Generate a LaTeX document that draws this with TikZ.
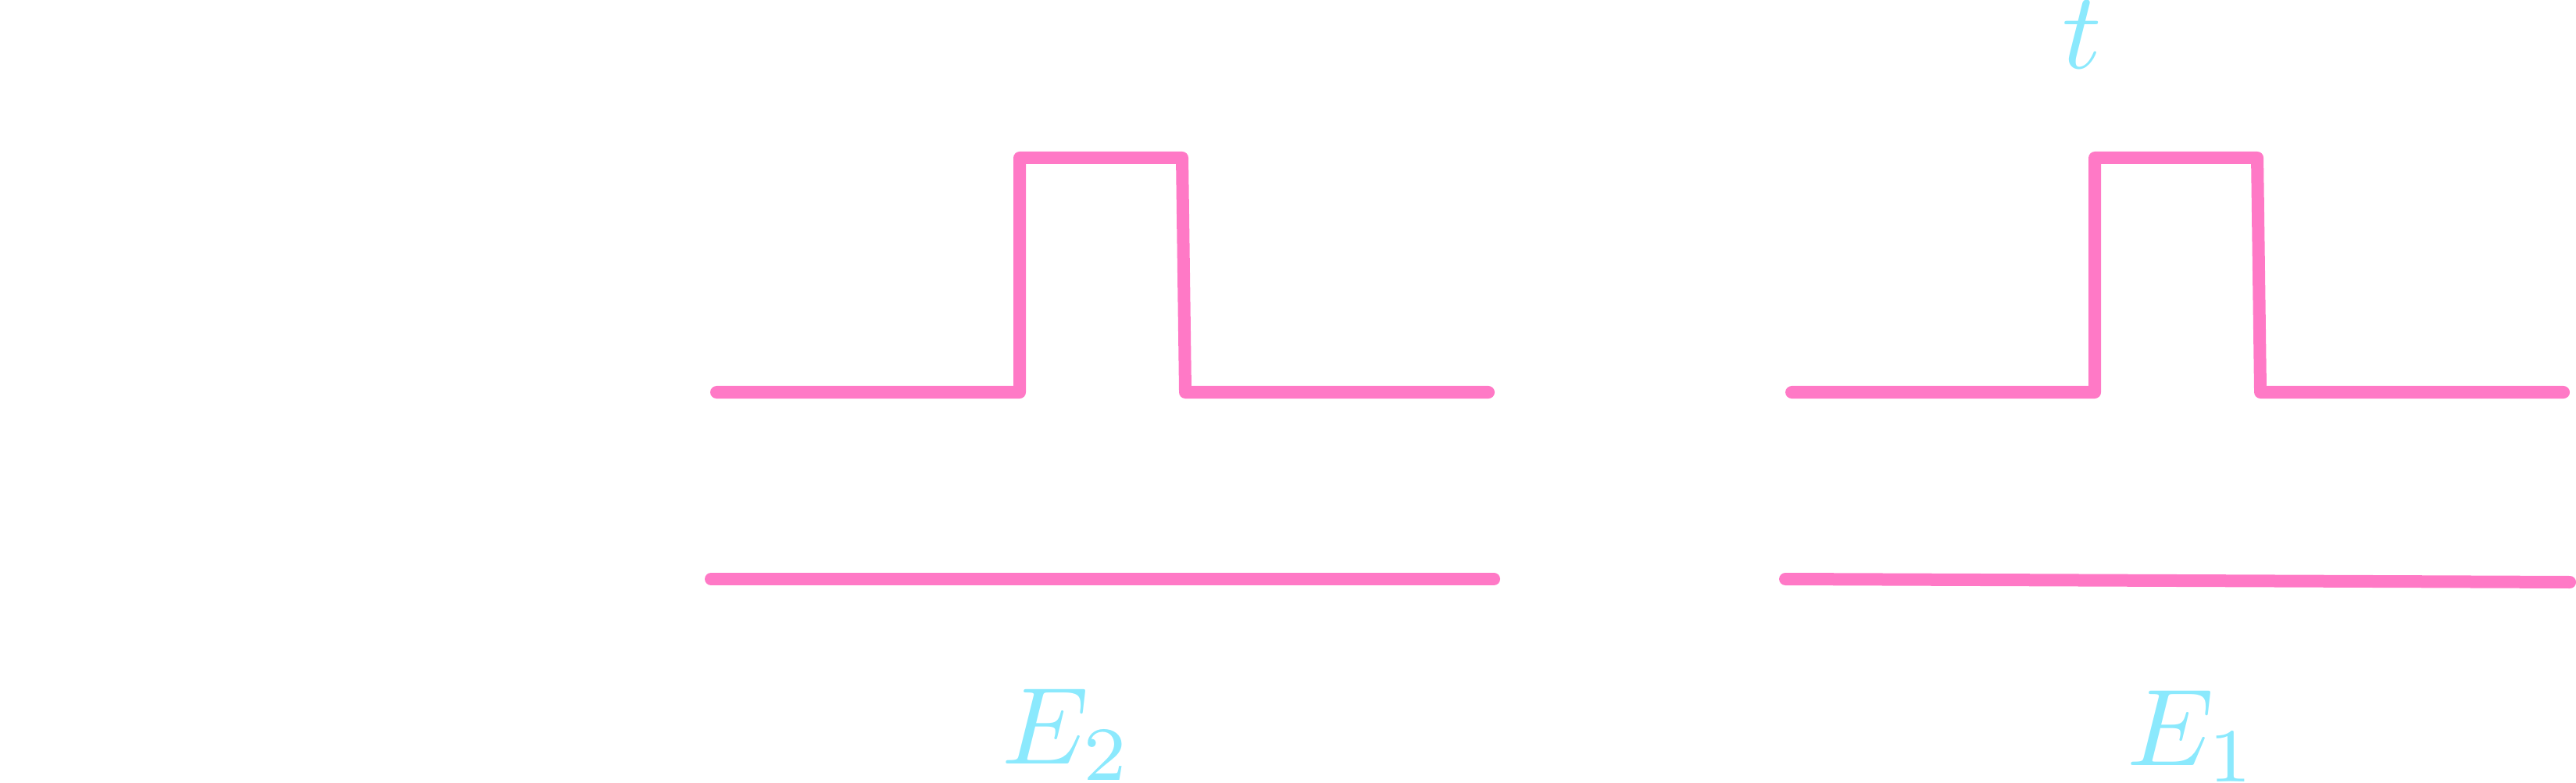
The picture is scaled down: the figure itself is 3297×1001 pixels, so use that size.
\documentclass[tikz,border=0pt]{standalone}
\usepackage{tikz}
\usetikzlibrary{positioning}

\definecolor{wavepink}{HTML}{FF79C6}
\definecolor{labcyan}{HTML}{8BE9FD}

\begin{document}
\begin{tikzpicture}[
    x=0.0714286pt, y=-0.0714286pt,
    wave/.style={draw=wavepink, line width=1.143pt, line cap=round, line join=round},
    lab/.style={text=labcyan, inner sep=0pt, anchor=base}
]
    \useasboundingbox (0,0) rectangle (3297,1001);

    % left pulse and its level
    \coordinate (l_start) at (917,502);
    \coordinate (l_rise) at (1305,502);
    \coordinate (l_top1) at (1305,202);
    \coordinate (l_top2) at (1513,202);
    \coordinate (l_fall) at (1517,502);
    \coordinate (l_end) at (1905,502);
    \coordinate (l_lvl1) at (910,741);
    \coordinate (l_lvl2) at (1912,741);

    % right pulse and its level
    \coordinate (r_start) at (2293,502);
    \coordinate (r_rise) at (2681,502);
    \coordinate (r_top1) at (2681,202);
    \coordinate (r_top2) at (2889,202);
    \coordinate (r_fall) at (2893,502);
    \coordinate (r_end) at (3281,502);
    \coordinate (r_lvl1) at (2285,741);
    \coordinate (r_lvl2) at (3289,745);

    \draw[wave] (l_start) -- (l_rise) -- (l_top1) -- (l_top2) -- (l_fall) -- (l_end);
    \draw[wave] (l_lvl1) -- (l_lvl2);
    \draw[wave] (r_start) -- (r_rise) -- (r_top1) -- (r_top2) -- (r_fall) -- (r_end);
    \draw[wave] (r_lvl1) -- (r_lvl2);

    \node[lab] (t_lab) at (2665,88) {$t$};
    \node[lab] (e2_lab) at (1366,977) {$E_2$};
    \node[lab] (e1_lab) at (2806,979) {$E_1$};
\end{tikzpicture}
\end{document}
